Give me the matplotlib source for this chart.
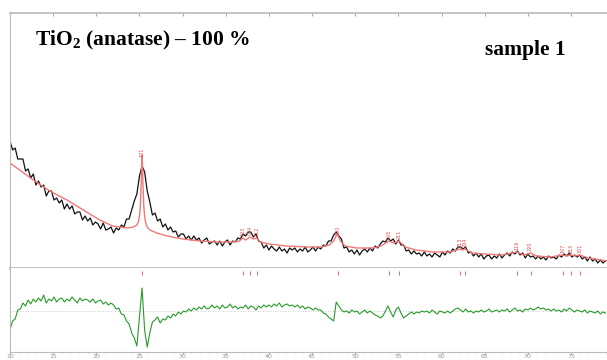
import numpy as np
import matplotlib
matplotlib.use('Agg')
import matplotlib.pyplot as plt

plt.rcParams.update({'mathtext.fontset': 'custom',
                     'mathtext.bf': 'Liberation Serif:bold',
                     'mathtext.rm': 'Liberation Serif'})

# 2-theta grid of the measured pattern (deg)
two_theta = np.round(10.0 + 0.3 * np.arange(231), 1)

# observed intensity (arb. units)
obs = [127, 118, 120, 109, 109, 109, 97, 99, 90, 94,
       83, 87, 81, 83, 72, 77, 77, 68, 70, 65,
       68, 59, 64, 59, 62, 54, 56, 56, 48, 52,
       47, 50, 43, 46, 44, 39, 45, 38, 39, 41,
       35, 40, 38, 43, 41, 49, 49, 58, 67, 74,
       92, 102, 96, 77, 66, 53, 55, 47, 49, 41,
       44, 38, 41, 36, 37, 31, 34, 34, 29, 32,
       28, 32, 28, 30, 25, 28, 30, 24, 26, 27,
       23, 27, 22, 26, 28, 23, 27, 26, 30, 29,
       34, 32, 36, 36, 31, 34, 27, 26, 20, 23,
       18, 22, 19, 17, 21, 17, 19, 15, 20, 18,
       20, 16, 19, 17, 21, 16, 18, 21, 17, 21,
       19, 23, 22, 27, 27, 33, 36, 32, 29, 20,
       21, 16, 18, 14, 18, 13, 17, 19, 16, 20,
       17, 22, 20, 24, 27, 26, 30, 27, 29, 24,
       28, 23, 23, 17, 18, 14, 17, 14, 15, 12,
       16, 12, 14, 11, 15, 13, 11, 16, 13, 17,
       15, 19, 17, 21, 21, 19, 21, 15, 16, 12,
       15, 11, 14, 9, 12, 13, 9, 12, 10, 14,
       10, 13, 15, 12, 16, 14, 17, 13, 15, 10,
       14, 11, 12, 9, 12, 9, 11, 8, 12, 10,
       11, 9, 13, 11, 14, 12, 15, 11, 13, 11,
       13, 9, 11, 7, 11, 7, 9, 5, 8, 5, 7]

# difference curve as plotted in the lower panel
diff = [-19, -10, -8, 1, 2, 8, 5, 11, 7, 12,
        9, 13, 10, 16, 8, 12, 10, 14, 9, 12,
        13, 9, 12, 10, 14, 11, 8, 13, 10, 12,
        11, 9, 12, 8, 10, 11, 7, 9, 6, 8,
        6, 2, 3, -3, -4, -10, -13, -22, -27, -35,
        -6, 23, -19, -36, -22, -11, -9, -6, -12, -8,
        -9, -5, -7, -3, -5, -1, -3, 0, -1, 2,
        0, 3, 1, 4, 2, 5, 2, 3, 6, 3,
        5, 2, 6, 3, 4, 7, 3, 5, 2, 4,
        3, 6, 2, 5, 4, 1, 5, 3, 6, 4,
        6, 4, 7, 5, 8, 4, 6, 7, 5, 6,
        4, 6, 3, 5, 2, 4, 3, 1, 3, 1,
        1, -2, -3, -6, -8, -10, 9, 5, 1, -1,
        0, -2, 1, -1, 0, -3, -1, 1, -2, 0,
        -2, -4, -5, -7, -5, 0, 5, -1, -6, 1,
        4, -2, -7, -5, -3, -1, -3, -1, -2, 0,
        -1, 0, -2, 1, -1, -3, 0, -1, -2, 0,
        -2, 0, 2, 3, 1, -1, 2, -1, 0, -2,
        0, -1, 1, -1, 0, 2, -1, 0, 1, -1,
        1, 0, 2, -1, 1, 3, 0, 1, -1, 2,
        1, 3, 1, 2, 4, 2, 3, 1, 2, 0,
        2, 0, 1, -1, 2, 0, 3, 1, -1, 1,
        0, -1, 1, -2, 0, -1, -2, 0, -3, -1, -2]

# calculated pattern
calc_x = [10.0, 12.7, 14.6, 16.6, 18.5, 20.4, 21.9, 22.7, 23.6, 24.3, 24.7,
          24.9, 25.0, 25.1, 25.2, 25.25, 25.3, 25.35, 25.4, 25.5, 25.6, 25.7,
          25.9, 26.2, 27.0, 28.2, 30.0, 32.0, 34.0, 35.8, 36.6, 36.95, 37.3,
          37.8, 38.2, 38.57, 39.0, 40.0, 42.0, 44.4, 46.0, 47.0, 47.5, 47.9,
          48.3, 48.8, 50.2, 52.0, 53.0, 53.9, 54.5, 55.06, 55.8, 57.0, 59.0,
          61.0, 62.1, 62.4, 62.7, 63.5, 65.0, 67.0, 68.76, 69.5, 70.3, 71.0,
          72.6, 74.0, 74.5, 75.0, 75.5, 76.0, 77.0, 79.2]
calc_y = [105, 88, 77, 68, 58, 48, 42, 41, 40, 41, 43,
          47, 52, 62, 85, 102, 113, 102, 85, 62, 52, 46,
          41, 38, 35, 32, 29, 27, 26, 26, 27, 30, 28,
          31, 29, 30, 26, 24, 22, 21, 21, 23, 27, 34,
          27, 22, 20, 20, 22, 27, 25, 27, 21, 18, 16,
          16, 19, 18, 19, 15, 14, 13, 16, 13, 15, 12,
          11, 13, 12, 13, 12, 13, 10, 7]

# anatase reflections
refl_pos = [25.28, 36.95, 37.80, 38.57, 48.05, 53.89, 55.06, 62.12, 62.69,
            68.76, 70.31, 74.03, 75.03, 76.02]
refl_hkl = ['101', '103', '004', '112', '200', '105', '211', '213', '204',
            '116', '220', '107', '215', '301']

fig = plt.figure(figsize=(6.07, 3.6), dpi=100)
ax = fig.add_axes([10/607, 92/360, 597/607, 255/360])
ax2 = fig.add_axes([10/607, 8/360, 597/607, 84/360], sharex=ax)

ax.plot(two_theta, obs, color='#111111', lw=0.9)
ax.plot(calc_x, calc_y, color='#f07878', lw=1.0)
for p, h in zip(refl_pos, refl_hkl):
    ax.text(p, np.interp(p, calc_x, calc_y) + 2, h, rotation=90, color='#e85050',
            fontsize=3.5, ha='center', va='bottom')
ax.set_xlim(10.0, 79.17)
ax.set_ylim(0, 255)
ax.set_yticks([])
for s in ['left', 'top', 'bottom']:
    ax.spines[s].set_color('#bbbbbb')
ax.spines['bottom'].set_linewidth(2)
ax.spines['top'].set_linewidth(1.2)
ax.spines['right'].set_visible(False)
ax.tick_params(axis='x', which='major', bottom=False, labelbottom=False,
               top=True, direction='in', length=2, color='#aaaaaa')
ax.tick_params(axis='x', which='minor', bottom=False, top=False)

ax2.axhline(0, color='#bbbbbb', lw=0.6, ls=(0, (1, 2)))
ax2.plot(two_theta, diff, color='#2a9a2a', lw=0.8)
ax2.plot(refl_pos, [38] * len(refl_pos), '|', color='#e85050', ms=3, mew=0.6)
ax2.set_ylim(-41, 43)
ax2.set_yticks([])
ax2.spines['top'].set_visible(False)
ax2.spines['right'].set_visible(False)
ax2.spines['left'].set_color('#bbbbbb')
ax2.spines['bottom'].set_color('#bbbbbb')
ax2.set_xticks(np.arange(10, 80, 5))
ax2.set_xticks(np.arange(10, 80, 1), minor=True)
ax2.tick_params(axis='x', which='major', length=1.5, color='#aaaaaa',
                labelsize=4.5, labelcolor='#999999', pad=0.3)
ax2.tick_params(axis='x', which='minor', length=1, color='#bbbbbb')

fig.text(35/607, (360-45)/360, r'TiO$_\mathbf{2}$ (anatase) – 100 %',
         family='Liberation Serif', weight='bold', fontsize=15.5, va='baseline')
fig.text(485/607, (360-55)/360, 'sample 1', family='Liberation Serif',
         weight='bold', fontsize=15.5, va='baseline')

fig.savefig('out.png', dpi=100)
